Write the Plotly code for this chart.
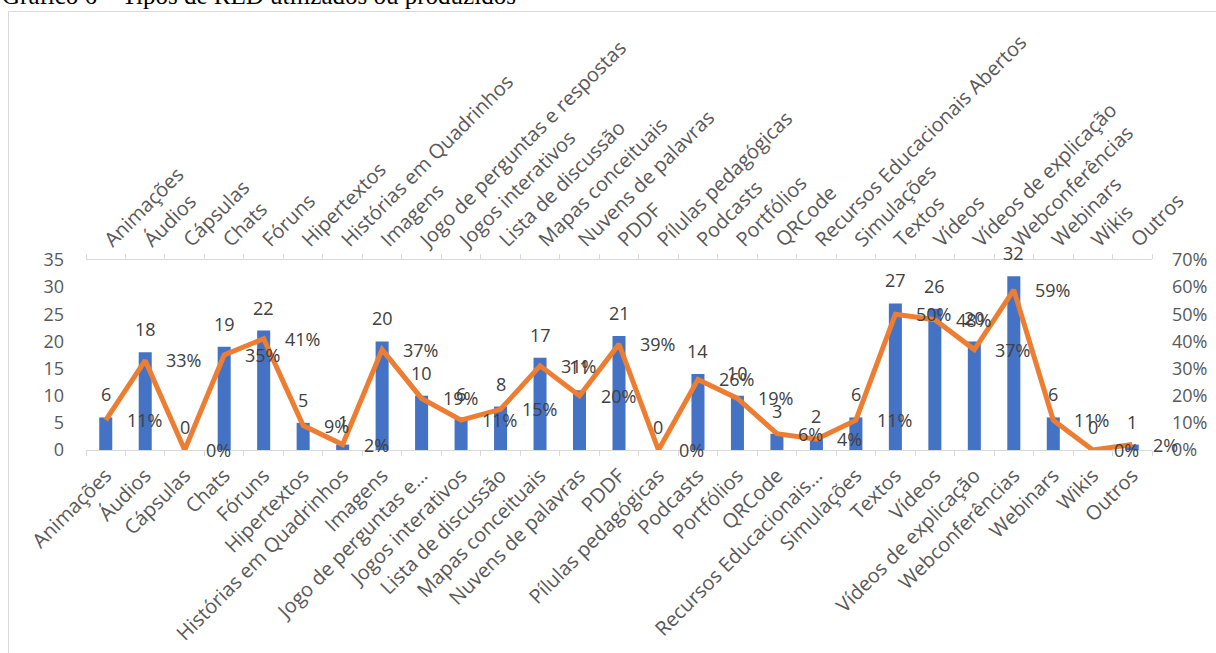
import plotly.graph_objects as go

# Categorias de RED (rótulos completos no eixo superior)
categorias = [
    "Animações", "Áudios", "Cápsulas", "Chats", "Fóruns", "Hipertextos",
    "Histórias em Quadrinhos", "Imagens", "Jogo de perguntas e respostas",
    "Jogos interativos", "Lista de discussão", "Mapas conceituais",
    "Nuvens de palavras", "PDDF", "Pílulas pedagógicas", "Podcasts",
    "Portfólios", "QRCode", "Recursos Educacionais Abertos", "Simulações",
    "Textos", "Vídeos", "Vídeos de explicação", "Webconferências",
    "Webinars", "Wikis", "Outros",
]

# Rótulos do eixo inferior (alguns abreviados)
rotulos_inferiores = [
    "Animações", "Áudios", "Cápsulas", "Chats", "Fóruns", "Hipertextos",
    "Histórias em Quadrinhos", "Imagens", "Jogo de perguntas e…",
    "Jogos interativos", "Lista de discussão", "Mapas conceituais",
    "Nuvens de palavras", "PDDF", "Pílulas pedagógicas", "Podcasts",
    "Portfólios", "QRCode", "Recursos Educacionais…", "Simulações",
    "Textos", "Vídeos", "Vídeos de explicação", "Webconferências",
    "Webinars", "Wikis", "Outros",
]

# Número de respostas por tipo
quantidade = [6, 18, 0, 19, 22, 5, 1, 20, 10, 6, 8, 17, 11, 21, 0, 14,
              10, 3, 2, 6, 27, 26, 20, 32, 6, 0, 1]

# Percentual de respondentes por tipo
percentual = [11, 33, 0, 35, 41, 9, 2, 37, 19, 11, 15, 31, 20, 39, 0, 26,
              19, 6, 4, 11, 50, 48, 37, 59, 11, 0, 2]

titulo = "Gráfico 6 – Tipos de RED utilizados ou produzidos"

AZUL = "#4472C4"
LARANJA = "#ED7D31"
CINZA_TEXTO = "#595959"
CINZA_LINHA = "#D9D9D9"
FONTE = "Open Sans"

W, H = 1216, 653
ML, MR, MT, MB = 86, 64, 260, 203
PW = W - ML - MR
PH = H - MT - MB


def px_x(p):
    return (p - ML) / PW


def px_y(p):
    return (H - MB - p) / PH


fig = go.Figure()

fig.add_trace(go.Bar(
    x=categorias, y=quantidade, marker=dict(color=AZUL, line=dict(width=0)),
    width=0.33, xaxis="x", yaxis="y", hoverinfo="x+y",
))

fig.add_trace(go.Scatter(
    x=categorias, y=percentual, mode="lines",
    line=dict(color=LARANJA, width=5, shape="linear"),
    xaxis="x2", yaxis="y2", hoverinfo="x+y",
))

anotacoes = []
for cat, q in zip(categorias, quantidade):
    anotacoes.append(dict(
        x=cat, y=q, xref="x", yref="y", text=str(q), showarrow=False,
        yanchor="bottom", yshift=9,
        font=dict(family=FONTE, size=18, color="#404040"),
    ))
for cat, p in zip(categorias, percentual):
    anotacoes.append(dict(
        x=cat, y=p, xref="x2", yref="y2", text=f"{p}%", showarrow=False,
        xanchor="left", yanchor="middle", xshift=19,
        font=dict(family=FONTE, size=18, color="#404040"),
    ))

# Título acima da área do gráfico
anotacoes.append(dict(
    x=px_x(0), y=px_y(-5), xref="paper", yref="paper", text=titulo,
    showarrow=False, xanchor="left", yanchor="middle",
    font=dict(family="Liberation Serif", size=25, color="#000000"),
))

# Moldura da área do gráfico
moldura = [
    dict(type="line", xref="paper", yref="paper",
         x0=px_x(8.5), x1=px_x(1230), y0=px_y(11.5), y1=px_y(11.5),
         line=dict(color=CINZA_LINHA, width=1)),
    dict(type="line", xref="paper", yref="paper",
         x0=px_x(8.5), x1=px_x(8.5), y0=px_y(11.5), y1=px_y(670),
         line=dict(color=CINZA_LINHA, width=1)),
]

eixo_cat = dict(
    type="category", showgrid=False, showline=True, linecolor=CINZA_LINHA,
    linewidth=1, ticks="outside", tickson="boundaries", ticklen=5,
    tickcolor=CINZA_LINHA, tickangle=-45, automargin=False,
    tickfont=dict(family=FONTE, size=20, color=CINZA_TEXTO),
    range=[-0.5, len(categorias) - 0.5], fixedrange=True,
)

fig.update_layout(
    width=W, height=H,
    margin=dict(l=ML, r=MR, t=MT, b=MB, autoexpand=False),
    paper_bgcolor="white", plot_bgcolor="white",
    showlegend=False,
    bargap=0.67,
    xaxis=dict(
        eixo_cat, categoryorder="array", categoryarray=categorias,
        tickvals=categorias, ticktext=rotulos_inferiores, side="bottom",
        ticklabelstandoff=5,
    ),
    xaxis2=dict(
        eixo_cat, categoryorder="array", categoryarray=categorias,
        overlaying="x", side="top", anchor="y",
    ),
    yaxis=dict(
        range=[0, 35], dtick=5, showgrid=False, zeroline=False,
        showline=False, ticks="", ticklabelstandoff=21, automargin=False,
        tickfont=dict(family=FONTE, size=18, color=CINZA_TEXTO),
        fixedrange=True,
    ),
    yaxis2=dict(
        range=[0, 70], dtick=10, ticksuffix="%", overlaying="y",
        side="right", anchor="x", showgrid=False, zeroline=False,
        showline=False, ticks="", ticklabelstandoff=19, automargin=False,
        tickfont=dict(family=FONTE, size=18, color=CINZA_TEXTO),
        fixedrange=True,
    ),
    annotations=anotacoes,
    shapes=moldura,
)

fig.write_html("out.html", config={"displayModeBar": False})
